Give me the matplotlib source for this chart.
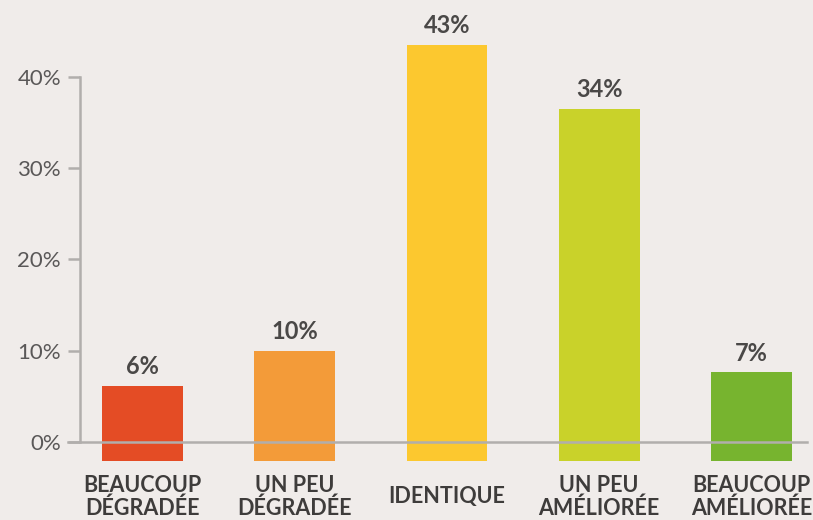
import matplotlib
matplotlib.use("Agg")
import matplotlib.pyplot as plt
import matplotlib.transforms as mtransforms

categories = ["BEAUCOUP\nDÉGRADÉE", "UN PEU\nDÉGRADÉE", "IDENTIQUE", "UN PEU\nAMÉLIORÉE", "BEAUCOUP\nAMÉLIORÉE"]
label_values = [6, 10, 43, 34, 7]
bar_tops = [6.1, 10.0, 43.5, 36.5, 7.6]
bar_base = -2.1
colors = ["#e44c25", "#f39b39", "#fcc82f", "#c9d22a", "#77b42f"]
yticks = [0, 10, 20, 30, 40]
ytick_labels = ["0%", "10%", "20%", "30%", "40%"]

bg = "#f0ecea"
axis_gray = "#b1aeac"

W, H = 813, 520
fig = plt.figure(figsize=(W / 100, H / 100), dpi=100, facecolor=bg)
left_px, right_px = 80, 807
bottom_px, top_px = 461, 4
ax = fig.add_axes([left_px / W, (H - bottom_px) / H, (right_px - left_px) / W, (bottom_px - top_px) / H])
ax.set_facecolor(bg)

x = list(range(len(categories)))
heights = [t - bar_base for t in bar_tops]
ax.bar(x, heights, bottom=bar_base, width=0.53, color=colors, zorder=2)

ax.set_xlim(-0.41, 4.365)
ax.set_ylim(bar_base, bar_base + (bottom_px - top_px) / 9.125)

# zero line extending left of spine
ax.axhline(0, xmin=-12 / (right_px - left_px), xmax=1, color=axis_gray, lw=1.8, clip_on=False, zorder=3)

for s in ["top", "right", "bottom"]:
    ax.spines[s].set_visible(False)
ax.spines["left"].set_bounds(0, 40)
ax.spines["left"].set_color(axis_gray)
ax.spines["left"].set_linewidth(1.8)
ax.set_yticks(yticks)
ax.set_yticklabels(ytick_labels, fontsize=16, color="#5a5858", family="Lato", fontweight="normal")
ax.tick_params(axis="y", length=8.6, width=1.8, color=axis_gray, pad=5)
ax.set_xticks([])

for xi, t, v in zip(x, bar_tops, label_values):
    ax.annotate(f"{v}%", (xi, t), xytext=(0, 8.6), textcoords="offset points",
                ha="center", va="baseline", fontsize=17, fontweight="bold",
                color="#4a4847", family="Lato")

trans = mtransforms.blended_transform_factory(ax.transData, fig.transFigure)
for xi, c in zip(x, categories):
    ax.text(xi, (H - 497) / H, c, transform=trans, ha="center", va="center",
            fontsize=15.5, fontweight="bold", color="#3e3c3b", family="Lato",
            linespacing=1.05)

fig.savefig("out.png", dpi=100, facecolor=bg)
